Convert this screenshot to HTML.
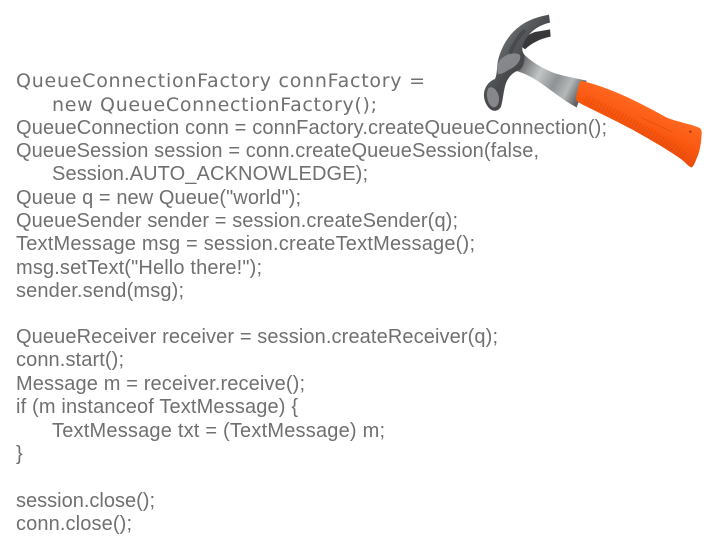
<!DOCTYPE html>
<html><head><meta charset="utf-8"><style>
html,body{margin:0;padding:0;background:#fff;width:728px;height:546px;overflow:hidden}
svg{display:block}
text{fill:#707070;font-family:"Liberation Sans",sans-serif;font-size:20px;white-space:pre}
.d{font-family:"DejaVu Sans",sans-serif;font-size:19px}
</style></head><body>
<svg width="728" height="546" viewBox="0 0 728 546" xmlns="http://www.w3.org/2000/svg">
<defs>
<filter id="b" x="-5%" y="-5%" width="110%" height="110%"><feGaussianBlur stdDeviation="0.35"/></filter>
<filter id="h" x="-5%" y="-5%" width="110%" height="110%"><feGaussianBlur stdDeviation="0.5"/></filter>
<linearGradient id="g1" gradientUnits="userSpaceOnUse" x1="60" y1="60" x2="150" y2="130"><stop offset="0" stop-color="#85888a"/><stop offset=".5" stop-color="#5f6265"/><stop offset="1" stop-color="#47494c"/></linearGradient>
<linearGradient id="g2" gradientUnits="userSpaceOnUse" x1="130" y1="150" x2="320" y2="250"><stop offset="0" stop-color="#5b5e60"/><stop offset=".35" stop-color="#c2c5c6"/><stop offset=".6" stop-color="#8f9294"/><stop offset=".8" stop-color="#b5b8b9"/><stop offset="1" stop-color="#5b5e60"/></linearGradient>
<linearGradient id="g3" gradientUnits="userSpaceOnUse" x1="215" y1="90" x2="170" y2="190"><stop offset="0" stop-color="#ff6b24"/><stop offset=".55" stop-color="#fb5a12"/><stop offset="1" stop-color="#ee4e0a"/></linearGradient>
</defs>
<g filter="url(#b)">
<text class="d" x="16" y="87" textLength="409">QueueConnectionFactory connFactory =</text>
<text class="d" x="52" y="111" textLength="325">new QueueConnectionFactory();</text>
<text x="16" y="134" textLength="591">QueueConnection conn = connFactory.createQueueConnection();</text>
<text x="16" y="157" textLength="523">QueueSession session = conn.createQueueSession(false,</text>
<text x="52" y="180" textLength="316">Session.AUTO_ACKNOWLEDGE);</text>
<text x="16" y="204" textLength="285">Queue q = new Queue("world");</text>
<text x="16" y="227" textLength="442">QueueSender sender = session.createSender(q);</text>
<text x="16" y="250" textLength="459">TextMessage msg = session.createTextMessage();</text>
<text x="16" y="274" textLength="246">msg.setText("Hello there!");</text>
<text x="16" y="297" textLength="168">sender.send(msg);</text>
<text x="16" y="343" textLength="482">QueueReceiver receiver = session.createReceiver(q);</text>
<text x="16" y="366" textLength="108">conn.start();</text>
<text x="16" y="390" textLength="289">Message m = receiver.receive();</text>
<text x="16" y="413" textLength="282">if (m instanceof TextMessage) {</text>
<text x="52" y="437" textLength="333">TextMessage txt = (TextMessage) m;</text>
<text x="16" y="460">}</text>
<text x="16" y="507" textLength="139">session.close();</text>
<text x="16" y="530" textLength="116">conn.close();</text>
</g>
<g transform="translate(475 10) scale(.33333)" filter="url(#h)">
<path d="M225 58L227 80C195 86 170 100 150 118L138 108C145 85 160 72 180 66Z" fill="#37383b"/>
<path d="M140 125C160 150 200 175 240 190C275 200 305 205 335 212L305 292C270 275 235 245 195 218C170 200 140 185 105 178Z" fill="url(#g2)"/>
<path d="M222 14L225 38C190 46 162 66 148 96C140 112 140 122 148 135C150 155 145 170 135 180C115 185 100 200 92 222C85 245 84 270 78 290C70 305 55 306 44 296C30 282 24 262 28 243C33 225 45 212 60 207C68 190 64 165 72 140C85 100 105 70 135 48C160 30 190 20 222 14Z" fill="url(#g1)"/>
<path d="M75 150C95 130 120 125 135 135C140 150 125 170 100 180C85 190 72 195 68 190C65 175 68 160 75 150Z" fill="#8e9193" opacity=".85"/>
<path d="M40 235C52 225 68 240 72 262C74 282 62 298 50 290C36 278 32 250 40 235Z" fill="#85878a"/>
<path d="M150 60C130 80 115 105 105 130" stroke="#3d3e41" stroke-width="12" fill="none" opacity=".55"/>
</g>
<g transform="translate(570 70) scale(.33333)" filter="url(#h)">
<path d="M32 32C120 52 215 100 290 143C320 155 360 162 385 172C392 175 396 180 395 190C394 215 390 245 380 265C375 278 370 290 365 292C358 293 345 275 330 265C300 245 280 232 250 215C180 172 100 135 40 105C30 100 22 95 18 90C18 80 25 45 32 32Z" fill="url(#g3)"/>
<path d="M45 88C75 102 120 122 165 148C215 178 280 212 345 258" stroke="#e04a08" stroke-width="28" fill="none" opacity=".5" stroke-dasharray="4 6"/>
<path d="M215 143L305 185" stroke="#d4480a" stroke-width="2" fill="none" opacity=".75"/>
<circle cx="361" cy="185" r="3.5" fill="#b02a08"/>
</g>
</svg>
</body></html>
